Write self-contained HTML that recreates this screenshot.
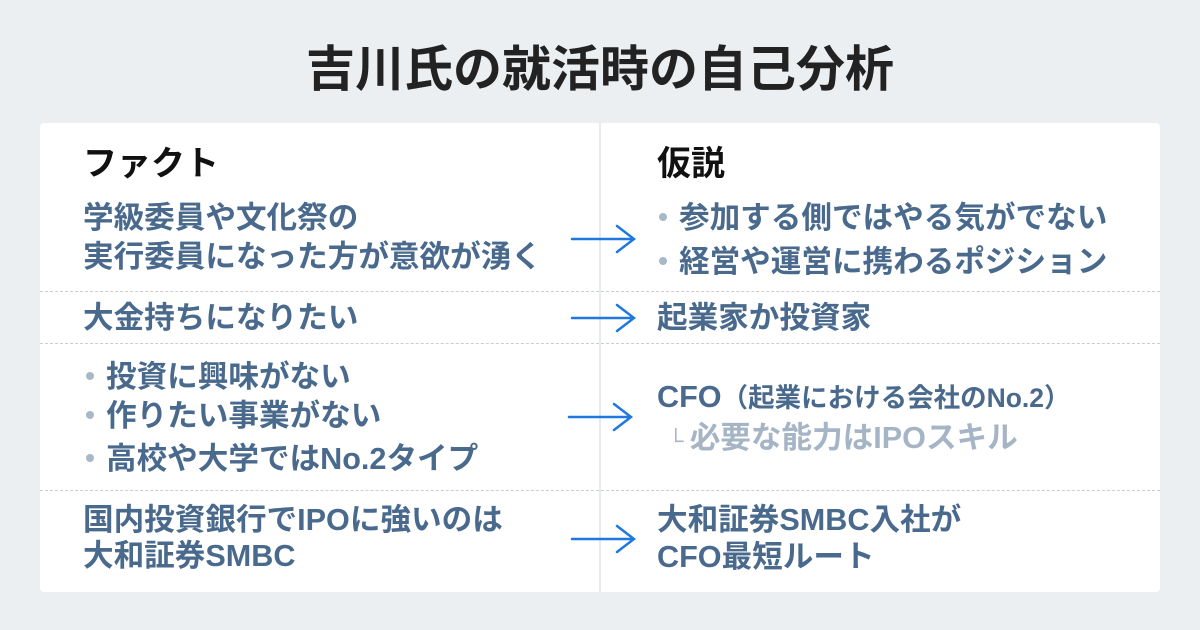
<!DOCTYPE html>
<html><head><meta charset="utf-8"><style>
body{margin:0;width:1200px;height:630px;background:#eceff1;font-family:"Liberation Sans","Noto Sans CJK JP",sans-serif;position:relative;overflow:hidden}
.card{position:absolute;left:40px;top:123px;width:1120px;height:469px;background:#fff;border-radius:4px}
.t{position:absolute;font-size:30.6px;font-weight:bold;color:#4a6a8d;line-height:34px;white-space:nowrap}
.h{position:absolute;font-size:34px;font-weight:bold;color:#111;line-height:44px}
.dash{position:absolute;left:40px;width:1120px;border-top:1.5px dashed #c9ced3}
.dot{display:inline-block;width:8px;height:8px;border-radius:50%;background:#a9b8c6;margin-right:12px;vertical-align:middle;position:relative;top:-3px}
svg{position:absolute}
</style></head><body>
<div style="position:absolute;left:0;width:1200px;top:40px;text-align:center;font-size:49px;font-weight:bold;color:#222;line-height:60px">吉川氏の就活時の自己分析</div>
<div class="card"></div>
<div style="position:absolute;left:599px;top:123px;width:2px;height:469px;background:#e8ebee"></div>
<div class="dash" style="top:291px"></div>
<div class="dash" style="top:343px"></div>
<div class="dash" style="top:490px"></div>
<div class="h" style="left:83px;top:142px">ファクト</div>
<div class="h" style="left:657px;top:142px">仮説</div>

<div class="t" style="left:83px;top:201px">学級委員や文化祭の</div>
<div class="t" style="left:83px;top:240px">実行委員になった方が意欲が湧く</div>
<div class="t" style="left:83px;top:301px">大金持ちになりたい</div>
<div class="t" style="left:86px;top:360px"><span class="dot"></span>投資に興味がない</div>
<div class="t" style="left:86px;top:399px"><span class="dot"></span>作りたい事業がない</div>
<div class="t" style="left:86px;top:442px"><span class="dot"></span>高校や大学ではNo.2タイプ</div>
<div class="t" style="left:83px;top:503px">国内投資銀行でIPOに強いのは</div>
<div class="t" style="left:83px;top:539px">大和証券SMBC</div>

<div class="t" style="left:659px;top:201px"><span class="dot"></span>参加する側ではやる気がでない</div>
<div class="t" style="left:659px;top:245px"><span class="dot"></span>経営や運営に携わるポジション</div>
<div class="t" style="left:657px;top:301px">起業家か投資家</div>
<div class="t" style="left:657px;top:380px">CFO<span style="font-size:26.5px">（起業における会社のNo.2）</span></div>
<div class="t" style="left:668px;top:421px;color:#a5b5c5"><span style="font-size:22px;font-weight:normal">└ </span>必要な能力はIPOスキル</div>
<div class="t" style="left:657px;top:503px">大和証券SMBC入社が</div>
<div class="t" style="left:657px;top:540px">CFO最短ルート</div>

<svg width="1200" height="630" style="left:0;top:0">
<g stroke="#1e78e0" stroke-width="2.5" fill="none" stroke-linecap="round">
<path d="M572 239H634M617 226L634 239L617 252"/>
<path d="M572 318H634M617 305L634 318L617 331"/>
<path d="M569 417H631M614 404L631 417L614 430"/>
<path d="M572 539H634M617 526L634 539L617 552"/>
</g></svg>
</body></html>
